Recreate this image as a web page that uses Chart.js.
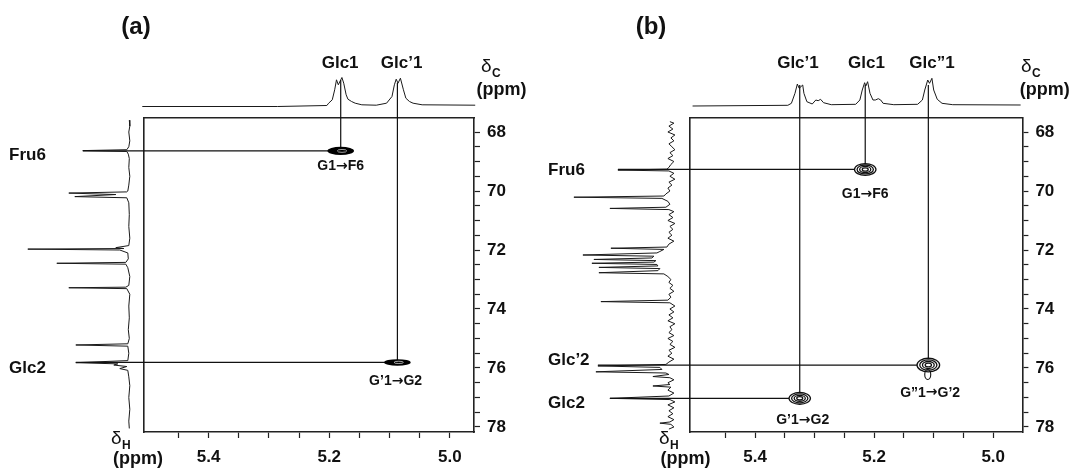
<!DOCTYPE html>
<html>
<head>
<meta charset="utf-8">
<title>HMBC spectra (a) and (b)</title>
<script src="https://cdn.jsdelivr.net/npm/chart.js@4.4.1/dist/chart.umd.min.js"></script>
<style>
  html, body { margin: 0; padding: 0; background: #ffffff; }
  #fig { position: relative; width: 1071px; height: 468px; overflow: hidden; background: #ffffff; }
  #fig canvas { position: absolute; top: 0; }
</style>
</head>
<body>
<div id="fig">
  <canvas id="panelA" width="540" height="468" style="left:0px"></canvas>
  <canvas id="panelB" width="531" height="468" style="left:540px"></canvas>
</div>
<script>
// ================= DATA =================
const hTickLabels = ['5.4', '5.2', '5.0'];
const cTickLabels = ['68', '70', '72', '74', '76', '78'];

// ---- panel (a) ----
// 1H projection (top): chemical shift (ppm) and intensity
const specHA_ppm = [5.510, 5.286, 5.204, 5.201, 5.195, 5.191, 5.188, 5.185, 5.179, 5.176, 5.172, 5.169, 5.163, 5.157, 5.146, 5.122, 5.105, 5.096, 5.092, 5.089, 5.086, 5.082, 5.077, 5.073, 5.067, 5.061, 5.046, 4.958];
const specHA_int = [0, 0, 1, 3.3, 6.7, 16.7, 26.7, 21.7, 29, 23.3, 11.7, 7.3, 5, 3.3, 1.7, 1.3, 3.3, 10, 21.7, 27.3, 23.3, 28.3, 16.7, 8.3, 5, 3.3, 1.7, 1.3];
// 13C projection (left)
const specCA_ppm = [67.6, 67.8, 68.0, 68.3, 68.5, 68.6, 68.63, 68.66, 68.75, 68.9, 69.2, 69.5, 69.8, 70.0, 70.03, 70.07, 70.12, 70.19, 70.23, 70.4, 70.8, 71.2, 71.6, 71.85, 71.92, 71.95, 71.97, 72.0, 72.1, 72.3, 72.42, 72.45, 72.48, 72.6, 72.9, 73.2, 73.26, 73.28, 73.31, 73.5, 73.9, 74.3, 74.7, 75.0, 75.18, 75.22, 75.26, 75.5, 75.75, 75.82, 75.86, 75.9, 75.95, 76.02, 76.08, 76.3, 76.6, 77.0, 77.4, 77.8, 78.05];
const specCA_int = [0.5, 0, 1, 0, 1, 3, 47, 3, 1.5, 0.5, 1, 0, 1, 2, 3, 61, 14, 55, 3, 1, 0.5, 1, 0, 1, 14, 6, 102, 10, 2, 1.5, 4, 73, 4, 2, 0, 1, 4, 61, 3, 0, 1, 0.5, 1.5, 0.5, 2, 54, 2, 1, 2, 54, 12, 16, 3, 10, 2, 1, 0, 1, 0, 1, 0.5];
// cross peaks
const crossHA = [5.181, 5.087];
const crossCA = [68.64, 75.81];
const crossLabelsA = ['G1\u2192F6', 'G\u20191\u2192G2'];
const crossSizeHA = [0.022, 0.022];
const crossSizeCA = [0.14, 0.11];
// intensity reached by the connecting lines in the projections
const colTopA = [26.5, 23.5];
const rowLeftA = [47, 54];
// assignment labels
const topLabelsA = ['Glc1', 'Glc\u20191'];
const topLabelHA = [5.182, 5.080];
const leftLabelsA = ['Fru6', 'Glc2'];
const leftLabelCA = [68.78, 76.0];

// ---- panel (b) ----
const specHB_ppm = [5.505, 5.345, 5.339, 5.333, 5.329, 5.326, 5.320, 5.318, 5.313, 5.304, 5.298, 5.294, 5.290, 5.285, 5.272, 5.231, 5.224, 5.220, 5.216, 5.214, 5.211, 5.207, 5.202, 5.198, 5.193, 5.189, 5.185, 5.167, 5.127, 5.119, 5.115, 5.110, 5.107, 5.103, 5.100, 5.094, 5.086, 5.068, 4.954];
const specHB_int = [0, 0.7, 2.7, 12.7, 22, 17.7, 21, 12.7, 4.3, 2, 6, 5.3, 6.7, 3.3, 1.3, 1.7, 6, 16, 23.3, 20, 24.3, 12.7, 6, 6, 7.3, 6, 2.7, 1.3, 1.7, 6, 16, 26, 22.7, 27.7, 16, 6.7, 2.7, 1.3, 1];
const specCB_ppm = [67.65, 67.7, 67.8, 67.9, 68.0, 68.1, 68.2, 68.3, 68.4, 68.5, 68.6, 68.7, 68.8, 68.9, 69.0, 69.1, 69.2, 69.26, 69.29, 69.32, 69.4, 69.5, 69.6, 69.7, 69.8, 69.9, 70.0, 70.1, 70.17, 70.21, 70.25, 70.35, 70.45, 70.55, 70.59, 70.63, 70.7, 70.8, 70.9, 71.0, 71.1, 71.2, 71.3, 71.4, 71.5, 71.6, 71.7, 71.8, 71.9, 71.94, 71.98, 72.05, 72.1, 72.17, 72.21, 72.27, 72.32, 72.36, 72.41, 72.45, 72.49, 72.54, 72.59, 72.63, 72.7, 72.77, 72.81, 72.9, 73.0, 73.1, 73.2, 73.3, 73.4, 73.5, 73.6, 73.7, 73.75, 73.79, 73.9, 74.0, 74.1, 74.2, 74.3, 74.4, 74.5, 74.6, 74.7, 74.8, 74.9, 75.0, 75.1, 75.2, 75.3, 75.4, 75.5, 75.6, 75.7, 75.8, 75.88, 75.93, 75.98, 76.05, 76.13, 76.17, 76.22, 76.29, 76.33, 76.4, 76.5, 76.56, 76.61, 76.65, 76.75, 76.85, 76.95, 77.03, 77.07, 77.15, 77.25, 77.35, 77.45, 77.55, 77.65, 77.75, 77.83, 77.87, 77.91, 78.0, 78.07];
const specCB_int = [2, -2, 3, -1, 4, -3, 1, -2, 3, 0, -3, 2, -1, 4, -2, 1, 3, 5, 54, 3, -2, 2, -3, 3, 0, 4, 2, 6, 8, 98, 10, 4, 2, 6, 62, 3, -2, 3, -1, 4, -3, 2, -1, 3, 0, 4, -2, 3, 5, 61, 8, 12, 15, 89, 18, 20, 78, 16, 18, 80, 15, 14, 73, 12, 14, 73, 8, 4, 1, 3, -1, 2, -2, 3, 1, 4, 71, 2, -3, 2, -2, 3, -1, 4, -3, 2, 0, 3, -2, 4, -1, 2, -3, 3, 0, 4, -2, 3, 6, 74, 12, 10, 76, 6, 3, 19, 2, -2, 4, 2, 19, 1, 4, -2, 3, 62, 2, -3, 4, -2, 3, -1, 4, -2, 2, 12, 1, -2, 3];
const crossHB = [5.215, 5.325, 5.109];
const crossCB = [69.27, 77.03, 75.9];
const crossLabelsB = ['G1\u2192F6', 'G\u20191\u2192G2', 'G\u201D1\u2192G\u20192'];
const crossSizeHB = [0.018, 0.018, 0.019];
const crossSizeCB = [0.2, 0.2, 0.23];
const colTopB = [21, 21, 21];
const rowLeftB = [54, 62, 74];
const topLabelsB = ['Glc\u20191', 'Glc1', 'Glc\u201D1'];
const topLabelHB = [5.328, 5.213, 5.103];
const leftLabelsB = ['Fru6', 'Glc\u20192', 'Glc2'];
const leftLabelCB = [69.29, 75.73, 77.19];

// ================= RENDERING =================
const FONT = 'Arial, "Liberation Sans", Helvetica, sans-serif';
const ARROW_FONT = '"DejaVu Sans", sans-serif';
Chart.defaults.font.family = FONT;

function labelFor(list, v) {
  const hit = list.find(t => Math.abs(parseFloat(t) - v) < 1e-6);
  return hit === undefined ? '' : hit;
}

function ellipse(ctx, cx, cy, rx, ry) {
  ctx.beginPath();
  ctx.ellipse(cx, cy, Math.max(rx, 0.5), Math.max(ry, 0.5), 0, 0, Math.PI * 2);
}

// draws a label like "G1→F6" centred at (x, y); the arrow uses a font with a full-width arrow glyph
function arrowLabel(ctx, text, x, y, size) {
  const parts = text.split('\u2192');
  const fonts = ['bold ' + size + 'px ' + FONT, 'bold ' + size + 'px ' + ARROW_FONT];
  const pieces = [];
  parts.forEach((p, i) => {
    if (i > 0) pieces.push({ t: '\u2192', f: fonts[1] });
    pieces.push({ t: p, f: fonts[0] });
  });
  let total = 0;
  pieces.forEach(pc => { ctx.font = pc.f; pc.w = ctx.measureText(pc.t).width; total += pc.w; });
  let cx = x - total / 2;
  ctx.textAlign = 'left';
  pieces.forEach(pc => { ctx.font = pc.f; ctx.fillText(pc.t, cx, y); cx += pc.w; });
}

function overlayPlugin(P) {
  return {
    id: 'nmrOverlay',
    afterDatasetsDraw(chart) {
      const ctx = chart.ctx;
      const xs = chart.scales.x, ys = chart.scales.y;
      const ts = chart.scales.ySpecTop, ls = chart.scales.xSpecLeft;
      ctx.save();
      // connecting lines
      ctx.strokeStyle = '#111';
      ctx.lineWidth = 1.2;
      P.crossH.forEach((h, i) => {
        const px = xs.getPixelForValue(h), py = ys.getPixelForValue(P.crossC[i]);
        ctx.beginPath();
        ctx.moveTo(px, ts.getPixelForValue(P.colTop[i]));
        ctx.lineTo(px, py);
        ctx.moveTo(ls.getPixelForValue(P.rowLeft[i]), py);
        ctx.lineTo(px, py);
        ctx.stroke();
      });
      // contours
      P.crossH.forEach((h, i) => {
        const cx = xs.getPixelForValue(h), cy = ys.getPixelForValue(P.crossC[i]);
        const rx = Math.abs(xs.getPixelForValue(h + P.sizeH[i]) - cx);
        const ry = Math.abs(ys.getPixelForValue(P.crossC[i] + P.sizeC[i]) - cy);
        if (P.filled) {
          ctx.fillStyle = '#000';
          ellipse(ctx, cx, cy, rx, ry); ctx.fill();
          ctx.strokeStyle = 'rgba(255,255,255,0.8)'; ctx.lineWidth = 0.8;
          ellipse(ctx, cx + rx * 0.1, cy, rx * 0.35, ry * 0.35); ctx.stroke();
        } else {
          ctx.fillStyle = '#fff';
          ellipse(ctx, cx, cy, rx, ry); ctx.fill();
          ctx.strokeStyle = '#111'; ctx.lineWidth = 1.3;
          [1, 0.76, 0.52, 0.28].forEach(f => { ellipse(ctx, cx, cy, rx * f, ry * f); ctx.stroke(); });
        }
      });
      if (P.extraH) {
        const cx = xs.getPixelForValue(P.extraH), cy = ys.getPixelForValue(P.extraC);
        ctx.strokeStyle = '#111'; ctx.lineWidth = 1.1;
        ellipse(ctx, cx, cy, 3, Math.abs(ys.getPixelForValue(P.extraC + 0.17) - cy)); ctx.stroke();
      }
      // texts
      ctx.fillStyle = '#111';
      ctx.textBaseline = 'middle';
      ctx.textAlign = 'center';
      ctx.font = 'bold 24px ' + FONT;
      ctx.fillText(P.title, P.titleX, 27);
      ctx.font = 'bold 17px ' + FONT;
      P.topLabels.forEach((t, i) => ctx.fillText(t, xs.getPixelForValue(P.topLabelH[i]), 63));
      ctx.textAlign = 'left';
      P.leftLabels.forEach((t, i) => ctx.fillText(t, P.leftLabelX, ys.getPixelForValue(P.leftLabelC[i])));
      P.crossLabels.forEach((t, i) => arrowLabel(ctx, t, xs.getPixelForValue(P.labelH[i]), ys.getPixelForValue(P.labelC[i]), 14));
      // axis names
      function deltaLabel(sub, x, y) {
        ctx.textAlign = 'left';
        ctx.font = '19px ' + FONT;
        ctx.fillText('\u03B4', x, y);
        const w = ctx.measureText('\u03B4').width;
        ctx.font = 'bold 12px ' + FONT;
        ctx.fillText(sub, x + w + 0.5, y + 7);
      }
      deltaLabel('C', P.dCx, 67);
      deltaLabel('H', P.dHx, 439);
      ctx.textAlign = 'center';
      ctx.font = 'bold 18px ' + FONT;
      ctx.fillText('(ppm)', P.ppmCx, 90);
      ctx.fillText('(ppm)', P.ppmHx, 459);
      ctx.restore();
    }
  };
}

function makePanel(P) {
  const cv = document.getElementById(P.canvas);
  const W = cv.width, H = cv.height;
  const A = P.area;
  const XAXIS_H = 30, YAXIS_W = 40;
  // hidden intensity scales of the projections: 1 intensity unit = 1 px, zero at the baseline
  const topMin = -(A.bottom - P.topBase), topMax = topMin + (A.bottom - A.top);
  const leftMin = P.leftBase - A.right, leftMax = leftMin + (A.right - A.left);

  const specH = P.hPpm.map((v, i) => ({ x: v, y: P.hInt[i] }));
  const specC = P.cPpm.map((v, i) => ({ x: P.cInt[i], y: v }));
  const tickFont = { family: FONT, size: 17, weight: 'bold' };
  const gridOpts = (hideAbove) => ({
    display: true, drawOnChartArea: false, drawTicks: true, tickLength: 6, tickWidth: 1.2, color: '#222',
    tickColor: c => (hideAbove && c.tick && c.tick.value > hideAbove) ? 'rgba(0,0,0,0)' : '#222'
  });
  const border = { display: true, color: '#222', width: 1.6 };

  new Chart(cv, {
    type: 'line',
    data: {
      datasets: [
        { label: '1H projection', data: specH, xAxisID: 'x', yAxisID: 'ySpecTop',
          borderColor: '#1a1a1a', borderWidth: 1, pointRadius: 0, tension: 0, clip: false, fill: false },
        { label: '13C projection', data: specC, xAxisID: 'xSpecLeft', yAxisID: 'y', indexAxis: 'y',
          borderColor: '#1a1a1a', borderWidth: 1, pointRadius: 0, tension: 0, clip: false, fill: false }
      ]
    },
    options: {
      responsive: false, animation: false, devicePixelRatio: 1, events: [],
      layout: { padding: { left: A.left, top: A.top, right: W - A.right - YAXIS_W, bottom: H - A.bottom - XAXIS_H } },
      plugins: { legend: { display: false }, tooltip: { enabled: false }, title: { display: false } },
      scales: {
        x: {
          type: 'linear', position: 'bottom', reverse: true, min: P.hMin, max: P.hMax,
          afterFit: s => { s.height = XAXIS_H; },
          ticks: { stepSize: 0.05, includeBounds: false, autoSkip: false, maxRotation: 0, minRotation: 0,
                   padding: 9, color: '#111', font: tickFont, callback: v => labelFor(hTickLabels, v) },
          grid: gridOpts(5.47), border: border
        },
        y: {
          type: 'linear', position: 'right', reverse: true, min: P.cMin, max: P.cMax,
          afterFit: s => { s.width = YAXIS_W; },
          ticks: { stepSize: 0.5, includeBounds: false, autoSkip: false, padding: 7, color: '#111',
                   font: tickFont, callback: v => labelFor(cTickLabels, v) },
          grid: gridOpts(null), border: border
        },
        xTop: { type: 'linear', position: 'top', afterFit: s => { s.height = 0; },
                ticks: { display: false }, grid: { display: false, drawTicks: false }, border: border },
        yLeft: { type: 'linear', position: 'left', afterFit: s => { s.width = 0; },
                 ticks: { display: false }, grid: { display: false, drawTicks: false }, border: border },
        ySpecTop: { type: 'linear', display: false, position: 'left', min: topMin, max: topMax },
        xSpecLeft: { type: 'linear', display: false, position: 'bottom', reverse: true, min: leftMin, max: leftMax }
      }
    },
    plugins: [overlayPlugin(P)]
  });
}

makePanel({
  canvas: 'panelA', area: { left: 143.5, top: 118, right: 474, bottom: 432 },
  hMin: 4.960, hMax: 5.508, cMin: 67.525, cMax: 78.17, topBase: 106.5, leftBase: 129.8,
  hPpm: specHA_ppm, hInt: specHA_int, cPpm: specCA_ppm, cInt: specCA_int,
  crossH: crossHA, crossC: crossCA, crossLabels: crossLabelsA, sizeH: crossSizeHA, sizeC: crossSizeCA,
  labelH: [5.181, 5.090], labelC: [69.17, 76.46],
  colTop: colTopA, rowLeft: rowLeftA, filled: true,
  topLabels: topLabelsA, topLabelH: topLabelHA, leftLabels: leftLabelsA, leftLabelC: leftLabelCA, leftLabelX: 9,
  title: '(a)', titleX: 136, dCx: 481, ppmCx: 501.5, dHx: 111, ppmHx: 138
});

makePanel({
  canvas: 'panelB', area: { left: 149.6, top: 118, right: 482.4, bottom: 432 },
  hMin: 4.951, hMax: 5.51, cMin: 67.525, cMax: 78.17, topBase: 106, leftBase: 131.9,
  hPpm: specHB_ppm, hInt: specHB_int, cPpm: specCB_ppm, cInt: specCB_int,
  crossH: crossHB, crossC: crossCB, crossLabels: crossLabelsB, sizeH: crossSizeHB, sizeC: crossSizeCB,
  labelH: [5.215, 5.320, 5.106], labelC: [70.11, 77.76, 76.84],
  colTop: colTopB, rowLeft: rowLeftB, filled: false, extraH: 5.110, extraC: 76.22,
  topLabels: topLabelsB, topLabelH: topLabelHB, leftLabels: leftLabelsB, leftLabelC: leftLabelCB, leftLabelX: 8,
  title: '(b)', titleX: 111, dCx: 481, ppmCx: 504.7, dHx: 119, ppmHx: 145.4
});
</script>
</body>
</html>
